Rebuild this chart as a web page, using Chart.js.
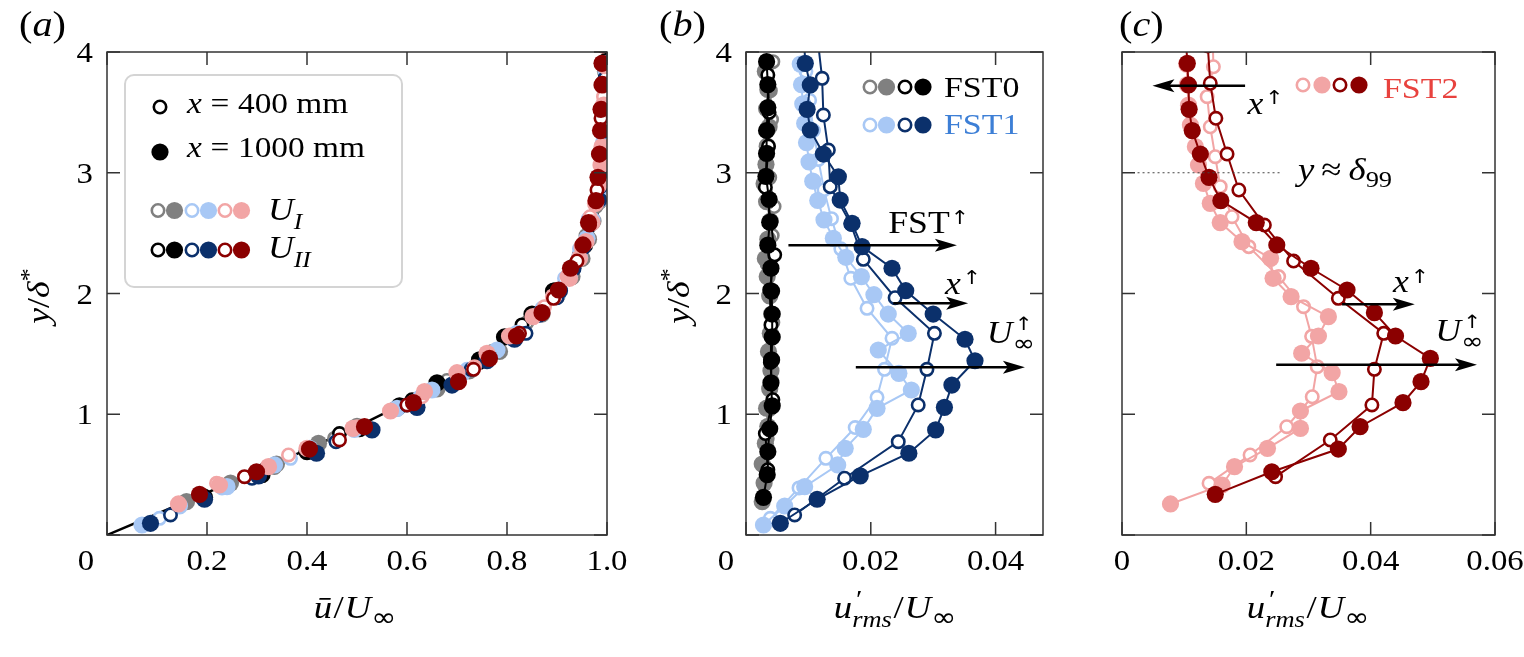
<!DOCTYPE html>
<html>
<head>
<meta charset="utf-8">
<script src="https://cdn.jsdelivr.net/npm/chart.js@4.4.1/dist/chart.umd.min.js"></script>
<style>
  body { margin: 0; background: #fff; width: 1524px; height: 657px; position: relative; overflow: hidden; }
  canvas { position: absolute; top: 0; }
</style>
</head>
<body>
<canvas id="pa" width="640" height="657" style="left:0px"></canvas>
<canvas id="pb" width="440" height="657" style="left:640px"></canvas>
<canvas id="pc" width="444" height="657" style="left:1080px"></canvas>
<script>
// ---- data: y/delta*, mean u/Uinf and u'rms/Uinf for each profile ----
// FST0, U_I (grey)
const f0_UI_400_y    = [0.320,0.560,0.800,1.040,1.280,1.520,1.760,2.000,2.240,2.480,2.720,2.960,3.200,3.440,3.680,3.920];
const f0_UI_400_mean = [0.195,0.335,0.455,0.575,0.680,0.770,0.840,0.895,0.935,0.958,0.978,0.990,0.994,0.995,0.996,0.997];
const f0_UI_400_rms  = [0.0028,0.0030,0.0034,0.0038,0.0041,0.0036,0.0043,0.0040,0.0034,0.0042,0.0045,0.0038,0.0035,0.0041,0.0039,0.0043];
const f0_UI_1000_y    = [0.276,0.430,0.588,0.759,0.900,1.050,1.210,1.360,1.520,1.670,1.830,1.980,2.140,2.290,2.450,2.600,2.760,2.910,3.070,3.220,3.380,3.530,3.690,3.840];
const f0_UI_1000_mean = [0.159,0.247,0.339,0.423,0.500,0.580,0.660,0.725,0.785,0.825,0.870,0.900,0.930,0.950,0.963,0.972,0.983,0.988,0.991,0.993,0.994,0.995,0.996,0.997];
const f0_UI_1000_rms  = [0.0026,0.0029,0.0026,0.0031,0.0035,0.0033,0.0038,0.0040,0.0036,0.0039,0.0041,0.0038,0.0034,0.0031,0.0035,0.0039,0.0033,0.0029,0.0032,0.0034,0.0037,0.0033,0.0035,0.0031];
// FST0, U_II (black)
const f0_UII_400_y    = [0.540,0.840,1.120,1.430,1.740,2.030,2.320,2.600,2.880,3.220,3.500,3.810];
const f0_UII_400_mean = [0.315,0.465,0.610,0.745,0.830,0.895,0.945,0.967,0.988,0.993,0.995,0.997];
const f0_UII_400_rms  = [0.0035,0.0031,0.0043,0.0039,0.0040,0.0038,0.0046,0.0040,0.0031,0.0036,0.0037,0.0035];
const f0_UII_1000_y    = [0.312,0.500,0.690,0.880,1.070,1.260,1.450,1.640,1.830,2.020,2.210,2.400,2.590,2.780,2.970,3.160,3.350,3.540,3.730,3.920];
const f0_UII_1000_mean = [0.195,0.310,0.400,0.505,0.585,0.660,0.745,0.795,0.850,0.893,0.930,0.955,0.968,0.983,0.989,0.992,0.994,0.995,0.996,0.997];
const f0_UII_1000_rms  = [0.0028,0.0034,0.0035,0.0038,0.0042,0.0040,0.0041,0.0042,0.0042,0.0041,0.0040,0.0035,0.0038,0.0037,0.0032,0.0033,0.0033,0.0035,0.0035,0.0033];
// FST1, U_I (light blue)
const f1_UI_400_y    = [0.138,0.390,0.635,0.890,1.140,1.372,1.629,1.877,2.126,2.370,2.620,2.860,3.110,3.350,3.600,3.840];
const f1_UI_400_mean = [0.105,0.230,0.367,0.500,0.625,0.720,0.808,0.870,0.915,0.945,0.963,0.986,0.991,0.994,0.995,0.996];
const f1_UI_400_rms  = [0.0039,0.0085,0.0128,0.0175,0.0210,0.0222,0.0234,0.0194,0.0168,0.0152,0.0137,0.0125,0.0116,0.0108,0.0102,0.0096];
const f1_UI_1000_y    = [0.083,0.240,0.400,0.580,0.718,0.875,1.049,1.201,1.339,1.532,1.670,1.830,1.990,2.140,2.300,2.457,2.610,2.770,2.930,3.090,3.250,3.410,3.570,3.730,3.900];
const f1_UI_1000_mean = [0.070,0.145,0.240,0.335,0.405,0.495,0.580,0.650,0.710,0.780,0.820,0.865,0.900,0.925,0.945,0.960,0.970,0.983,0.988,0.991,0.993,0.994,0.995,0.996,0.997];
const f1_UI_1000_rms  = [0.0028,0.0062,0.0094,0.0147,0.0159,0.0188,0.0210,0.0265,0.0245,0.0212,0.0260,0.0228,0.0205,0.0185,0.0160,0.0140,0.0125,0.0115,0.0107,0.0101,0.0097,0.0094,0.0091,0.0089,0.0087];
// FST1, U_II (navy)
const f1_UII_400_y    = [0.166,0.470,0.773,1.077,1.372,1.670,1.965,2.283,2.575,2.885,3.188,3.478,3.782,4.100];
const f1_UII_400_mean = [0.127,0.290,0.458,0.600,0.728,0.838,0.900,0.945,0.965,0.987,0.992,0.994,0.996,0.997];
const f1_UII_400_rms  = [0.0078,0.0158,0.0244,0.0276,0.0290,0.0302,0.0239,0.0188,0.0168,0.0135,0.0132,0.0124,0.0122,0.0115];
const f1_UII_1000_y    = [0.097,0.296,0.489,0.677,0.870,1.057,1.242,1.443,1.621,1.830,2.023,2.209,2.388,2.581,2.774,2.967,3.155,3.354,3.525,3.727,3.906,4.100];
const f1_UII_1000_mean = [0.087,0.195,0.303,0.419,0.530,0.620,0.690,0.760,0.815,0.865,0.905,0.932,0.952,0.967,0.983,0.989,0.992,0.994,0.995,0.996,0.997,0.998];
const f1_UII_1000_rms  = [0.0055,0.0114,0.0183,0.0261,0.0304,0.0318,0.0330,0.0367,0.0351,0.0300,0.0256,0.0234,0.0186,0.0170,0.0151,0.0148,0.0124,0.0103,0.0098,0.0103,0.0095,0.0093];
// FST2, U_I (pink)
const f2_UI_400_y    = [0.428,0.663,0.897,1.145,1.394,1.645,1.891,2.140,2.388,2.636,2.885,3.133,3.381,3.630,3.878,4.100];
const f2_UI_400_mean = [0.219,0.363,0.500,0.630,0.735,0.815,0.875,0.920,0.948,0.966,0.984,0.989,0.992,0.993,0.995,0.996];
const f2_UI_400_rms  = [0.0140,0.0206,0.0265,0.0306,0.0314,0.0305,0.0292,0.0252,0.0204,0.0177,0.0158,0.0150,0.0142,0.0137,0.0147,0.0146];
const f2_UI_1000_y    = [0.257,0.414,0.566,0.718,0.883,1.027,1.187,1.344,1.505,1.648,1.808,1.974,2.126,2.291,2.429,2.587,2.747,2.912,3.064,3.216,3.395,3.560,3.730,3.900];
const f2_UI_1000_mean = [0.143,0.225,0.323,0.400,0.492,0.567,0.635,0.700,0.760,0.805,0.852,0.893,0.925,0.945,0.958,0.970,0.977,0.985,0.988,0.990,0.992,0.993,0.994,0.995];
const f2_UI_1000_rms  = [0.0078,0.0161,0.0181,0.0234,0.0287,0.0287,0.0349,0.0338,0.0289,0.0316,0.0332,0.0272,0.0243,0.0239,0.0193,0.0158,0.0142,0.0131,0.0123,0.0118,0.0110,0.0107,0.0105,0.0104];
// FST2, U_II (dark red)
const f2_UII_400_y    = [0.483,0.787,1.077,1.372,1.670,1.960,2.269,2.567,2.857,3.155,3.451,3.741,4.050];
const f2_UII_400_mean = [0.275,0.465,0.600,0.733,0.825,0.893,0.940,0.965,0.980,0.985,0.988,0.990,0.991];
const f2_UII_400_rms  = [0.0247,0.0335,0.0402,0.0406,0.0421,0.0348,0.0276,0.0229,0.0188,0.0169,0.0151,0.0142,0.0138];
const f2_UII_1000_y    = [0.337,0.524,0.712,0.897,1.096,1.270,1.463,1.648,1.841,2.029,2.209,2.402,2.587,2.769,2.962,3.155,3.349,3.525,3.727,3.906,4.100];
const f2_UII_1000_mean = [0.185,0.299,0.405,0.515,0.613,0.703,0.765,0.819,0.870,0.903,0.927,0.952,0.963,0.978,0.982,0.985,0.987,0.988,0.990,0.990,0.991];
const f2_UII_1000_rms  = [0.0150,0.0241,0.0348,0.0383,0.0452,0.0481,0.0496,0.0440,0.0406,0.0362,0.0304,0.0249,0.0216,0.0159,0.0140,0.0126,0.0113,0.0108,0.0107,0.0105,0.0103];
// Blasius profile
const blasius_y = [0, 0.232, 0.465, 0.697, 0.930, 1.162, 1.395, 1.627, 1.860, 2.092, 2.324, 2.557, 2.789, 3.022, 3.254, 3.487, 3.719, 3.952, 4.2];
const blasius_u = [0, 0.1328, 0.2647, 0.3938, 0.5168, 0.6298, 0.7290, 0.8115, 0.8761, 0.9233, 0.9555, 0.9759, 0.9878, 0.9943, 0.9975, 0.9990, 0.9996, 0.9999, 1.0];

// ticks
const ticksY  = [0, 1, 2, 3, 4];
const ticksXa = [0, 0.2, 0.4, 0.6, 0.8, 1.0];
const ticksXb = [0, 0.02, 0.04];
const ticksXc = [0, 0.02, 0.04, 0.06];

const GRAY = '#808080', BLACK = '#000000', LBLUE = '#a8c8f5', NAVY = '#0b306b', PINK = '#f2a5a5', DRED = '#8b0000';
const FST1C = '#3d7fd6', FST2C = '#e8423e';
const FONT = '"Liberation Serif", "Times New Roman", serif';
const SYM = '"DejaVu Sans", sans-serif';
const SX = 1.15;
const R_FILL = 8.6, R_OPEN = 6.2, LW_OPEN = 2.6;

const series = [
  { fst: 0, y: f0_UI_400_y,   mean: f0_UI_400_mean,   rms: f0_UI_400_rms,   color: GRAY,  open: true },
  { fst: 0, y: f0_UI_1000_y,  mean: f0_UI_1000_mean,  rms: f0_UI_1000_rms,  color: GRAY,  open: false },
  { fst: 0, y: f0_UII_400_y,  mean: f0_UII_400_mean,  rms: f0_UII_400_rms,  color: BLACK, open: true },
  { fst: 0, y: f0_UII_1000_y, mean: f0_UII_1000_mean, rms: f0_UII_1000_rms, color: BLACK, open: false },
  { fst: 1, y: f1_UI_400_y,   mean: f1_UI_400_mean,   rms: f1_UI_400_rms,   color: LBLUE, open: true },
  { fst: 1, y: f1_UI_1000_y,  mean: f1_UI_1000_mean,  rms: f1_UI_1000_rms,  color: LBLUE, open: false },
  { fst: 1, y: f1_UII_400_y,  mean: f1_UII_400_mean,  rms: f1_UII_400_rms,  color: NAVY,  open: true },
  { fst: 1, y: f1_UII_1000_y, mean: f1_UII_1000_mean, rms: f1_UII_1000_rms, color: NAVY,  open: false },
  { fst: 2, y: f2_UI_400_y,   mean: f2_UI_400_mean,   rms: f2_UI_400_rms,   color: PINK,  open: true },
  { fst: 2, y: f2_UI_1000_y,  mean: f2_UI_1000_mean,  rms: f2_UI_1000_rms,  color: PINK,  open: false },
  { fst: 2, y: f2_UII_400_y,  mean: f2_UII_400_mean,  rms: f2_UII_400_rms,  color: DRED,  open: true },
  { fst: 2, y: f2_UII_1000_y, mean: f2_UII_1000_mean, rms: f2_UII_1000_rms, color: DRED,  open: false }
];

function makeDs(s, key, line) {
  return {
    data: s.y.map((v, i) => ({ x: s[key][i], y: v })),
    showLine: line,
    borderColor: s.color,
    borderWidth: 2,
    pointRadius: s.open ? R_OPEN : R_FILL,
    pointBorderWidth: s.open ? LW_OPEN : 0,
    pointBackgroundColor: s.open ? '#ffffff' : s.color,
    pointBorderColor: s.color,
    pointHoverRadius: 0,
    clip: 0
  };
}

// text with italics / sub / superscripts
function rich(ctx, x, y, parts, size, align, color) {
  const items = [];
  let w = 0;
  parts.forEach(p => {
    const o = p[1] || {};
    const fs = size * (o.s || 1);
    ctx.font = (o.i ? 'italic ' : '') + fs.toFixed(1) + 'px ' + (o.f || FONT);
    const tw = ctx.measureText(p[0]).width * SX;
    items.push({ t: p[0], font: ctx.font, w: tw, o: o });
    if (!o.ov && !o.na) w += tw + (o.dx || 0) * size;
  });
  let cx = align === 'center' ? x - w / 2 : align === 'right' ? x - w : x;
  let prevX = cx, prevW = 0;
  ctx.textAlign = 'left';
  ctx.textBaseline = 'alphabetic';
  items.forEach(it => {
    const o = it.o;
    let px;
    if (o.ov) px = prevX + (prevW - it.w) / 2;
    else px = cx + (o.dx || 0) * size;
    ctx.save();
    ctx.font = it.font;
    ctx.fillStyle = o.c || color || '#000';
    ctx.translate(px, y + (o.dy || 0) * size);
    ctx.scale(SX, 1);
    ctx.fillText(it.t, 0, 0);
    ctx.restore();
    if (!o.ov && !o.na) { prevX = px; prevW = it.w; cx = px + it.w; }
  });
}

function marker(ctx, x, y, color, open) {
  ctx.beginPath();
  if (open) {
    ctx.arc(x, y, R_OPEN, 0, 2 * Math.PI);
    ctx.fillStyle = '#fff'; ctx.fill();
    ctx.lineWidth = LW_OPEN; ctx.strokeStyle = color; ctx.stroke();
  } else {
    ctx.arc(x, y, R_FILL, 0, 2 * Math.PI);
    ctx.fillStyle = color; ctx.fill();
  }
}

function arrow(ctx, x0, x1, y) {
  const d = Math.sign(x1 - x0);
  ctx.strokeStyle = '#000'; ctx.fillStyle = '#000'; ctx.lineWidth = 2.5;
  ctx.beginPath(); ctx.moveTo(x0, y); ctx.lineTo(x1 - d * 14, y); ctx.stroke();
  ctx.beginPath();
  ctx.moveTo(x1, y);
  ctx.lineTo(x1 - d * 22, y - 6.5);
  ctx.lineTo(x1 - d * 17, y);
  ctx.lineTo(x1 - d * 22, y + 6.5);
  ctx.closePath(); ctx.fill();
}

function frameAndTicks(chart) {
  const ctx = chart.ctx, ca = chart.chartArea, xs = chart.scales.x, ys = chart.scales.y;
  ctx.save();
  ctx.strokeStyle = '#333'; ctx.lineWidth = 1.5;
  ctx.strokeRect(ca.left, ca.top, ca.right - ca.left, ca.bottom - ca.top);
  ctx.beginPath();
  xs.ticks.forEach(t => {
    const p = xs.getPixelForValue(t.value);
    ctx.moveTo(p, ca.bottom); ctx.lineTo(p, ca.bottom - 13);
    ctx.moveTo(p, ca.top); ctx.lineTo(p, ca.top + 13);
  });
  ys.ticks.forEach(t => {
    const p = ys.getPixelForValue(t.value);
    ctx.moveTo(ca.left, p); ctx.lineTo(ca.left + 13, p);
    ctx.moveTo(ca.right, p); ctx.lineTo(ca.right - 13, p);
  });
  ctx.stroke();
  ctx.restore();
}

const TICK = 28.5;
function tickLabels(ctx, chart, off, xfmt, yfmt) {
  const xs = chart.scales.x, ys = chart.scales.y, ca = chart.chartArea;
  xs.ticks.forEach(t => {
    const s = xfmt(t.value);
    if (s) rich(ctx, xs.getPixelForValue(t.value) + off, 570, [[s]], TICK, 'center');
  });
  if (yfmt) ys.ticks.forEach(t => {
    const s = yfmt(t.value);
    if (s) rich(ctx, ca.left + off - 14, ys.getPixelForValue(t.value) + 10, [[s]], TICK, 'right');
  });
}

function yTitle(ctx, x, y) {
  ctx.save();
  ctx.translate(x, y);
  ctx.rotate(-Math.PI / 2);
  rich(ctx, 0, 0, [['y', { i: 1 }], ['/'], ['δ', { i: 1 }], ['*', { s: 0.75, dy: -0.42 }]], 31, 'center');
  ctx.restore();
}

const INF = { s: 0.82, dy: 0.26, f: SYM };
const meanTitle = [['ū', { i: 1 }], ['/', { dx: 0.04 }], ['U', { i: 1, dx: 0.03 }], ['∞', INF]];
const rmsTitle = [['u', { i: 1 }], ['′', { s: 0.8, dy: -0.3, na: 1, dx: 0.12 }], ['rms', { i: 1, s: 0.72, dy: 0.28 }],
  ['/', { dx: 0.05 }], ['U', { i: 1, dx: 0.03 }], ['∞', INF]];
const UP = { s: 0.62, dy: -0.3, f: SYM };
const xUp = [['x', { i: 1 }], ['↑', Object.assign({ dx: 0.05 }, UP)]];
const uUp = [['U', { i: 1 }], ['∞', { s: 0.75, dy: 0.26, f: SYM }], ['↑', { s: 0.6, dy: -0.42, ov: 1, f: SYM }]];

function makeChart(id, off, datasets, xTicks, xMax, yW, padR, draw) {
  // later datasets are drawn on top (Chart.js paints high "order" first)
  datasets.forEach((d, i) => { d.order = datasets.length - i; });
  return new Chart(document.getElementById(id), {
    type: 'scatter',
    data: { datasets: datasets },
    options: {
      responsive: false,
      animation: false,
      events: [],
      layout: { padding: { left: 0, top: 52, right: padR, bottom: 0 }, autoPadding: false },
      plugins: { legend: { display: false }, tooltip: { enabled: false } },
      scales: {
        x: {
          type: 'linear', min: 0, max: xMax,
          ticks: { display: false }, grid: { display: false, drawTicks: false }, border: { display: false },
          afterBuildTicks: s => { s.ticks = xTicks.map(v => ({ value: v })); },
          afterFit: s => { s.height = 122; }
        },
        y: {
          type: 'linear', min: 0, max: 4,
          ticks: { display: false }, grid: { display: false, drawTicks: false }, border: { display: false },
          afterBuildTicks: s => { s.ticks = ticksY.map(v => ({ value: v })); },
          afterFit: s => { s.width = yW; }
        }
      }
    },
    plugins: [{
      id: 'deco',
      afterDatasetsDraw(chart) { frameAndTicks(chart); },
      afterDraw(chart) {
        const ctx = chart.ctx;
        ctx.save();
        ctx.translate(-off, 0);
        const px = v => chart.scales.x.getPixelForValue(v) + off;
        const py = v => chart.scales.y.getPixelForValue(v);
        draw(ctx, chart, px, py);
        ctx.restore();
      }
    }]
  });
}

// ---- panel (a) ----
const dsA = [{
  data: blasius_y.map((v, i) => ({ x: blasius_u[i], y: v })),
  showLine: true, borderColor: '#000', borderWidth: 2.5, pointRadius: 0, clip: 0
}].concat(series.map(s => makeDs(s, 'mean', false)));

makeChart('pa', 0, dsA, ticksXa, 1.0, 107, 33, (ctx, chart, px, py) => {
  tickLabels(ctx, chart, 0, v => v === 0 ? '' : v.toFixed(1), v => v === 0 ? '' : String(v));
  rich(ctx, 86, 570, [['0']], TICK, 'center');
  rich(ctx, 355, 618, meanTitle, 32, 'center');
  yTitle(ctx, 49, 296);
  rich(ctx, 19, 36, [['('], ['a', { i: 1 }], [')']], 35, 'left');
  // legend box
  ctx.save();
  ctx.strokeStyle = '#d4d4d4'; ctx.lineWidth = 2;
  const bx = 125, by = 75, bw = 277, bh = 212, r = 9;
  ctx.beginPath();
  ctx.moveTo(bx + r, by);
  ctx.arcTo(bx + bw, by, bx + bw, by + bh, r);
  ctx.arcTo(bx + bw, by + bh, bx, by + bh, r);
  ctx.arcTo(bx, by + bh, bx, by, r);
  ctx.arcTo(bx, by, bx + bw, by, r);
  ctx.closePath(); ctx.fillStyle = '#fff'; ctx.fill(); ctx.stroke();
  ctx.restore();
  marker(ctx, 160, 107, BLACK, true);
  rich(ctx, 187, 113, [['x', { i: 1 }], ['=', { dx: 0.3 }], ['400 mm', { dx: 0.3 }]], 29, 'left');
  marker(ctx, 160, 152, BLACK, false);
  rich(ctx, 187, 157, [['x', { i: 1 }], ['=', { dx: 0.3 }], ['1000 mm', { dx: 0.3 }]], 29, 'left');
  const lx = [158, 174.5, 192, 208.5, 225, 241.5];
  [[GRAY, 1], [GRAY, 0], [LBLUE, 1], [LBLUE, 0], [PINK, 1], [PINK, 0]].forEach((m, i) => marker(ctx, lx[i], 210.5, m[0], m[1]));
  [[BLACK, 1], [BLACK, 0], [NAVY, 1], [NAVY, 0], [DRED, 1], [DRED, 0]].forEach((m, i) => marker(ctx, lx[i], 250, m[0], m[1]));
  rich(ctx, 268, 220, [['U', { i: 1 }], ['I', { i: 1, s: 0.72, dy: 0.3 }]], 31, 'left');
  rich(ctx, 268, 258, [['U', { i: 1 }], ['II', { i: 1, s: 0.72, dy: 0.3 }]], 31, 'left');
});

// ---- panel (b) ----
const dsB = series.filter(s => s.fst < 2).map(s => makeDs(s, 'rms', true));
makeChart('pb', 640, dsB, ticksXb, 0.0476, 106, 37, (ctx, chart, px, py) => {
  tickLabels(ctx, chart, 640, v => v === 0 ? '' : v.toFixed(2), v => v === 0 ? '' : String(v));
  rich(ctx, 726, 570, [['0']], TICK, 'center');
  rich(ctx, 895, 618, rmsTitle, 32, 'center');
  yTitle(ctx, 689, 296);
  rich(ctx, 659, 36, [['('], ['b', { i: 1 }], [')']], 35, 'left');
  const lx = [870, 886.5, 905, 923];
  [[GRAY, 1], [GRAY, 0], [BLACK, 1], [BLACK, 0]].forEach((m, i) => marker(ctx, lx[i], 87, m[0], m[1]));
  [[LBLUE, 1], [LBLUE, 0], [NAVY, 1], [NAVY, 0]].forEach((m, i) => marker(ctx, lx[i], 125, m[0], m[1]));
  rich(ctx, 944, 97, [['FST0']], 29.5, 'left');
  rich(ctx, 944, 134, [['FST1']], 29.5, 'left', FST1C);
  // annotations
  arrow(ctx, px(0.0068), px(0.0338), py(2.40));
  rich(ctx, px(0.0228), py(2.50), [['FST'], ['↑', Object.assign({ dx: 0.03 }, UP)]], 31, 'left');
  arrow(ctx, px(0.0236), px(0.0356), py(1.92));
  rich(ctx, px(0.0319), py(2.00), xUp, 31, 'left');
  arrow(ctx, px(0.0176), px(0.0447), py(1.39));
  rich(ctx, px(0.0386), py(1.59), uUp, 31, 'left');
});

// ---- panel (c) ----
const dsC = series.filter(s => s.fst === 2).map(s => makeDs(s, 'rms', true));
makeChart('pc', 1080, dsC, ticksXc, 0.06, 42, 29, (ctx, chart, px, py) => {
  tickLabels(ctx, chart, 1080, v => v === 0 ? '0' : v.toFixed(2), null);
  rich(ctx, 1308, 618, rmsTitle, 32, 'center');
  rich(ctx, 1119, 36, [['('], ['c', { i: 1 }], [')']], 35, 'left');
  const lx = [1303, 1322, 1340, 1359];
  [[PINK, 1], [PINK, 0], [DRED, 1], [DRED, 0]].forEach((m, i) => marker(ctx, lx[i], 85, m[0], m[1]));
  rich(ctx, 1383, 98, [['FST2']], 29.5, 'left', FST2C);
  // delta99 marker
  ctx.save();
  ctx.strokeStyle = '#444'; ctx.lineWidth = 1.2; ctx.setLineDash([2, 3]);
  ctx.beginPath(); ctx.moveTo(px(0.0025), py(3)); ctx.lineTo(px(0.0255), py(3)); ctx.stroke();
  ctx.restore();
  rich(ctx, px(0.0283), py(2.94), [['y', { i: 1 }], ['≈', { dx: 0.22 }], ['δ', { i: 1, dx: 0.22 }], ['99', { s: 0.72, dy: 0.22 }]], 32, 'left');
  // annotations
  arrow(ctx, px(0.0198), px(0.0049), py(3.72));
  rich(ctx, px(0.0202), py(3.49), xUp, 31, 'left');
  arrow(ctx, px(0.0354), px(0.0471), py(1.91));
  rich(ctx, px(0.0436), py(2.01), xUp, 31, 'left');
  arrow(ctx, px(0.0248), px(0.0571), py(1.41));
  rich(ctx, px(0.0504), py(1.61), uUp, 31, 'left');
});
</script>
</body>
</html>
